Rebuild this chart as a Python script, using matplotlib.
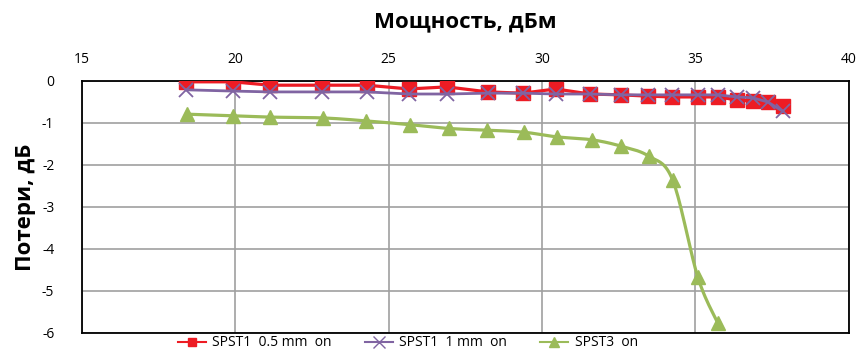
import numpy as np
import matplotlib
matplotlib.use("Agg")
import matplotlib.pyplot as plt
from matplotlib.lines import Line2D

plt.rcParams["font.family"] = ["Open Sans", "DejaVu Sans"]
plt.rcParams["axes.unicode_minus"] = False

# ── DATA ─────────────────────────────────────────────────────────────────────
power_1 = [18.39, 19.92, 21.13, 22.82, 24.29, 25.66, 26.90, 28.23, 29.37, 30.45,
           31.56, 32.57, 33.45, 34.23, 35.08, 35.73, 36.35, 36.87, 37.36, 37.85]
loss_05mm = [-0.02, -0.02, -0.10, -0.10, -0.10, -0.19, -0.14, -0.26, -0.29, -0.19,
             -0.31, -0.33, -0.36, -0.38, -0.38, -0.38, -0.45, -0.48, -0.50, -0.60]
loss_1mm = [-0.21, -0.24, -0.26, -0.26, -0.26, -0.31, -0.31, -0.29, -0.29, -0.31,
            -0.31, -0.33, -0.33, -0.33, -0.33, -0.33, -0.38, -0.40, -0.50, -0.72]

power_3 = [18.42, 19.92, 21.13, 22.86, 24.26, 25.69, 26.96, 28.20, 29.41, 30.48,
           31.62, 32.57, 33.48, 34.26, 35.08, 35.73]
loss_spst3 = [-0.79, -0.83, -0.86, -0.88, -0.95, -1.04, -1.13, -1.17, -1.22, -1.33,
              -1.40, -1.55, -1.79, -2.36, -4.67, -5.76]

LABELS = ["SPST1  0.5 mm  on", "SPST1  1 mm  on", "SPST3  on"]
COLORS = ["#ED1C24", "#8064A2", "#9BBB59"]


def smooth(x, y, n=20):
    """Bezier smoothing through the points, like Excel's smoothed line."""
    x = np.asarray(x, float)
    y = np.asarray(y, float)
    px = np.concatenate([[x[0]], x, [x[-1]]])
    py = np.concatenate([[y[0]], y, [y[-1]]])
    xs, ys = [], []
    for i in range(1, len(px) - 2):
        p0 = np.array([px[i - 1], py[i - 1]])
        p1 = np.array([px[i], py[i]])
        p2 = np.array([px[i + 1], py[i + 1]])
        p3 = np.array([px[i + 2], py[i + 2]])
        c1 = p1 + (p2 - p0) / 6
        c2 = p2 - (p3 - p1) / 6
        t = np.linspace(0, 1, n)[:, None]
        b = ((1 - t) ** 3) * p1 + 3 * ((1 - t) ** 2) * t * c1 + 3 * (1 - t) * t ** 2 * c2 + t ** 3 * p2
        xs.extend(b[:, 0])
        ys.extend(b[:, 1])
    return xs, ys


fig = plt.figure(figsize=(8.59, 3.5), dpi=100)
ax = fig.add_axes([0.0955, 0.0486, 0.8925, 0.72])

ax.plot(power_1, loss_05mm, color=COLORS[0], lw=2.3, marker="s", ms=10,
        mec=COLORS[0], mfc=COLORS[0], zorder=3)
ax.plot(power_1, loss_1mm, color=COLORS[1], lw=2.0, marker="x", ms=10, mew=1.3,
        zorder=4)
sx, sy = smooth(power_3, loss_spst3)
ax.plot(sx, sy, color=COLORS[2], lw=2.3, zorder=3)
ax.plot(power_3, loss_spst3, ls="none", marker="^", ms=9.5, color=COLORS[2], zorder=5)

ax.set_xlim(15, 40)
ax.set_ylim(-6, 0)
ax.set_xticks([15, 20, 25, 30, 35, 40])
ax.set_yticks([0, -1, -2, -3, -4, -5, -6])
ax.xaxis.tick_top()
ax.xaxis.set_label_position("top")
ax.tick_params(axis="both", length=0, labelsize=10)
ax.tick_params(axis="x", pad=10)
ax.tick_params(axis="y", pad=20)
ax.grid(True, color="#A0A0A0", lw=1.2)
ax.set_axisbelow(True)
for s in ax.spines.values():
    s.set_color("black")
    s.set_linewidth(1.3)

ax.set_xlabel("Мощность, дБм", fontsize=16, fontweight="bold", labelpad=18)
ax.set_ylabel("Потери, дБ", fontsize=16, fontweight="bold", labelpad=4)

handles = [
    Line2D([], [], color=COLORS[0], lw=1.5, marker="s", ms=6),
    Line2D([], [], color=COLORS[1], lw=1.5, marker="x", ms=8, mew=1.0),
    Line2D([], [], color=COLORS[2], lw=1.5, marker="^", ms=7),
]
fig.legend(handles, LABELS, loc="center", bbox_to_anchor=(0.475, 0.02), ncol=3,
           frameon=False, fontsize=10, handlelength=2.0, columnspacing=2.4,
           handletextpad=0.45, borderpad=0)

fig.savefig("out.png", dpi=100)
